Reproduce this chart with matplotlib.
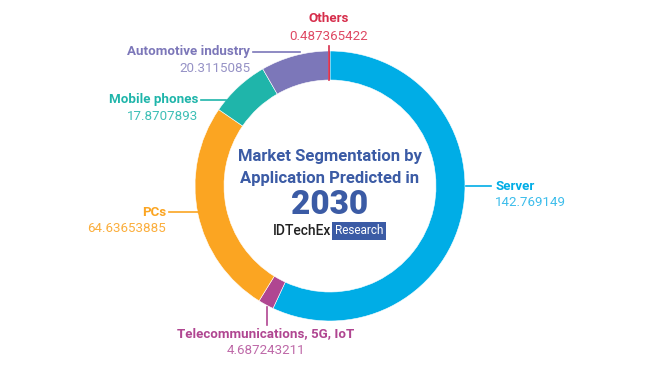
import matplotlib.pyplot as plt

# data
labels = ['Server', 'Telecommunications, 5G, IoT', 'PCs', 'Mobile phones',
          'Automotive industry', 'Others']
values = [142.769149, 4.687243211, 64.63653885, 17.8707893, 20.3115085, 0.487365422]
value_text = ['142.769149', '4.687243211', '64.63653885', '17.8707893',
              '20.3115085', '0.487365422']
colors = ['#00ADE6', '#B04691', '#FBA522', '#1FB5AA', '#7C77B9', '#D62D4B']
value_colors = ['#3DBDEB', '#BE69A8', '#FBAE3C', '#3EBFB6', '#9692C6', '#DF4A64']

H = 371
plt.rcParams['font.family'] = ['Roboto', 'DejaVu Sans']

fig = plt.figure(figsize=(6.64, 3.71), dpi=100)
ax = fig.add_axes([0, 0, 1, 1])

cx, cy, R = 330, H - 186, 135
ax.pie(values, colors=colors, startangle=90, counterclock=False,
       radius=R, center=(cx, cy), frame=True,
       wedgeprops=dict(width=29, edgecolor='white', linewidth=0.4))
ax.set_xlim(0, 664)
ax.set_ylim(0, H)
ax.axis('off')

def y(p):
    return H - p

# label positions (px): text x, label y, alignment, leader line
lab = {
    'Server': dict(x=495, y=186, ha='left', line=[(466, 186), (491, 186)]),
    'Telecommunications, 5G, IoT': dict(x=266, y=334, ha='center', line=[(267, 307), (267, 325)]),
    'PCs': dict(x=166, y=212, ha='right', line=[(169, 212), (198, 212)]),
    'Mobile phones': dict(x=198, y=100, ha='right', line=[(201, 100), (226, 100)]),
    'Automotive industry': dict(x=250, y=52, ha='right', line=[(253, 52), (300, 52)]),
    'Others': dict(x=329, y=19, ha='center', line=[(329, 46), (329, 80)]),
}

for i, name in enumerate(labels):
    d = lab[name]
    ax.text(d['x'], y(d['y']), name, ha=d['ha'], va='center', fontsize=9.6,
            fontweight='bold', color=colors[i])
    ax.text(d['x'], y(d['y'] + 17), value_text[i], ha=d['ha'], va='center',
            fontsize=9.6, fontweight='normal', color=value_colors[i])
    (x0, y0), (x1, y1) = d['line']
    ax.plot([x0, x1], [y(y0), y(y1)], color=colors[i], lw=1.2)

# centre text
title_c = '#3B5BA5'
ax.text(cx, y(157), 'Market Segmentation by', ha='center', va='center',
        fontsize=12, fontweight='bold', color=title_c)
ax.text(cx, y(178), 'Application Predicted in', ha='center', va='center',
        fontsize=12, fontweight='bold', color=title_c)
ax.text(cx, y(205), '2030', ha='center', va='center',
        fontsize=24, fontweight='black', color=title_c)
ax.text(331, y(231), 'IDTechEx', ha='right', va='center', fontsize=10,
        fontweight='medium', color='#222222')
ax.text(359, y(231), 'Research', ha='center', va='center', fontsize=8.5,
        color='white',
        bbox=dict(boxstyle='square,pad=0.25', fc='#3B5BA5', ec='none'))

fig.savefig('out.png', dpi=100)
